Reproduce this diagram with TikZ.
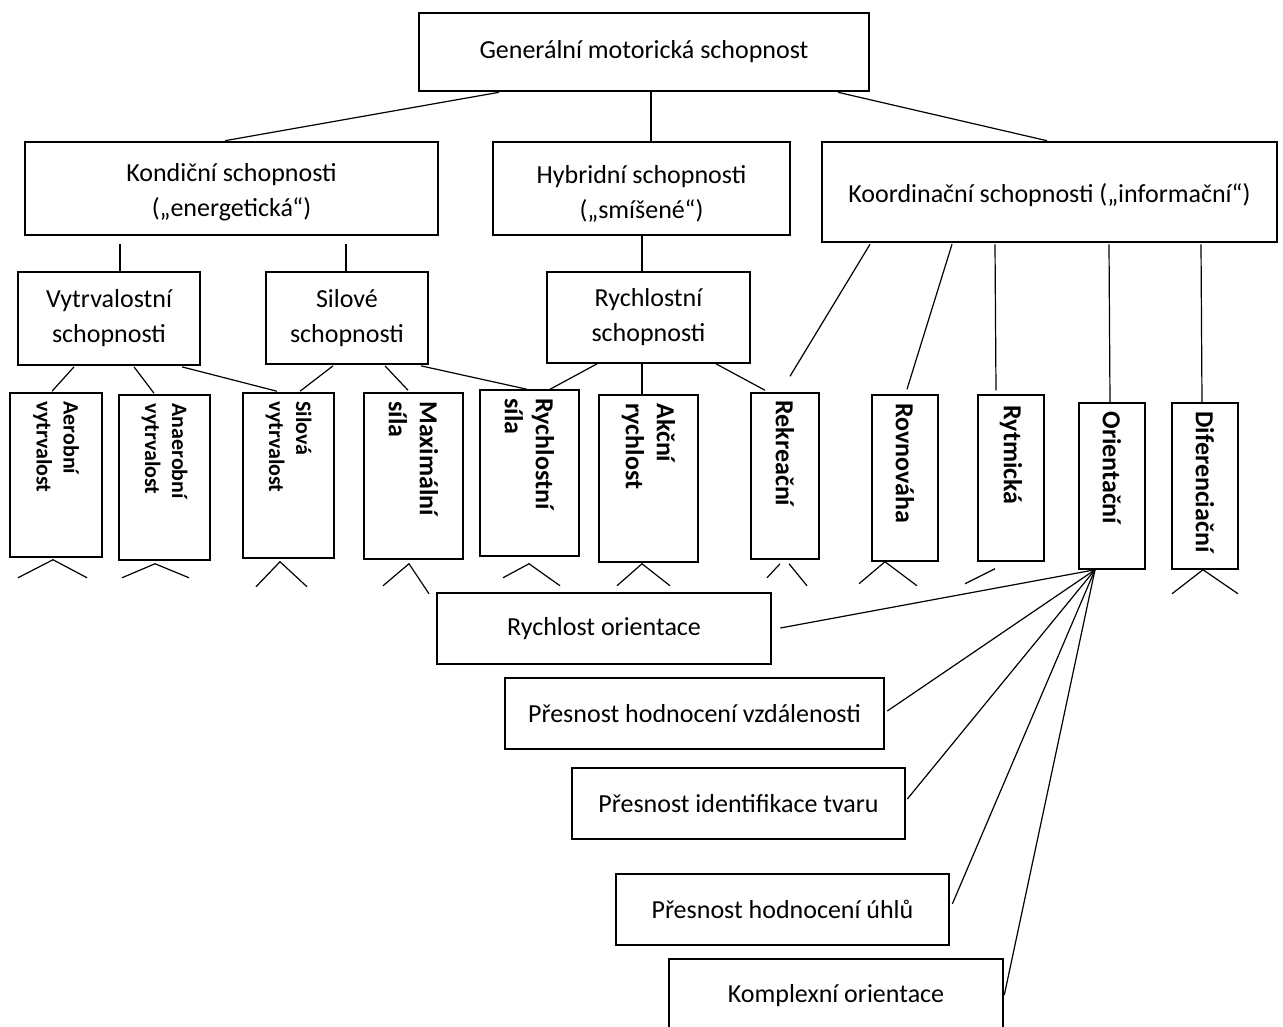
\documentclass[tikz,border=0pt]{standalone}
\usepackage{fontspec}
\setmainfont{Carlito}
\begin{document}
\begin{tikzpicture}[x=1pt,y=-1pt,
  conn/.style={line width=1.2pt, black},
  sz/.style 2 args={minimum width=#1pt, minimum height=#2pt},
  bigbox/.style={draw, line width=2.6pt, inner sep=0pt, align=center, font=\fontsize{26}{35}\selectfont},
  midbox/.style={draw, line width=1.7pt, inner sep=0pt, align=center, font=\fontsize{26}{35}\selectfont},
  txt/.style={inner sep=0pt, align=center, font=\fontsize{26}{35}\selectfont},
  vbox/.style={draw, line width=1.5pt, inner sep=0pt},
  vlab/.style={rotate=-90, anchor=west, inner sep=0pt, align=left, font=\bfseries\fontsize{26}{31}\selectfont},
  vlabs/.style={rotate=-90, anchor=west, inner sep=0pt, align=left, font=\bfseries\fontsize{22}{27}\selectfont}
]
\useasboundingbox (0,0) rectangle (1283,1026);

% level 1
\node[bigbox, sz={450}{78}] (gen) at (644,52) {Generální motorická schopnost};
% level 2
\node[bigbox, sz={413}{93}] (kon) at (231.5,188.5) {};
\node[txt] (konT) at ([yshift=-4pt]kon.center) {Kondiční schopnosti\\(„energetická“)};
\node[bigbox, sz={297}{93}] (hyb) at (641.5,188.5) {};
\node[txt] (hybT) at ([yshift=-5pt]hyb.center) {Hybridní schopnosti\\(„smíšené“)};
\node[bigbox, sz={455}{100}] (koo) at (1049.5,192) {};
\node[txt] (kooT) at ([yshift=-3pt]koo.center) {Koordinační schopnosti („informační“)};
% level 3
\node[midbox, sz={182}{93}] (vyt) at (109,318.5) {Vytrvalostní\\schopnosti};
\node[midbox, sz={162}{92}] (sil) at (347,318) {Silové\\schopnosti};
\node[midbox, sz={203}{91}] (rch) at (648.5,317.5) {Rychlostní\\schopnosti};
% level 4
\node[vbox, sz={92}{164}] (aer) at (56,475) {};
\node[vbox, sz={91}{165}] (ana) at (164.5,477.5) {};
\node[vbox, sz={91}{165}] (silv) at (288.5,475.5) {};
\node[vbox, sz={99}{166}] (max) at (413.5,476) {};
\node[vbox, sz={99}{166}] (rsi) at (529.5,473) {};
\node[vbox, sz={99}{167}] (akc) at (648.5,478.5) {};
\node[vbox, sz={68}{166}] (rek) at (785,476) {};
\node[vbox, sz={66}{166}] (rov) at (905,478) {};
\node[vbox, sz={66}{166}] (ryt) at (1011,478) {};
\node[vbox, sz={66}{166}] (ori) at (1112,486) {};
\node[vbox, sz={66}{166}] (dif) at (1205,486) {};

\node[vlabs] (aerT) at ([yshift=-9pt]aer.north) {Aerobní\\vytrvalost};
\node[vlabs] (anaT) at ([yshift=-9pt]ana.north) {Anaerobní\\vytrvalost};
\node[vlabs] (silvT) at ([yshift=-9pt]silv.north) {Silová\\vytrvalost};
\node[vlab] (maxT) at ([yshift=-9pt]max.north) {Maximální\\síla};
\node[vlab] (rsiT) at ([yshift=-9pt]rsi.north) {Rychlostní\\síla};
\node[vlab] (akcT) at ([yshift=-9pt]akc.north) {Akční\\rychlost};
\node[vlab] (rekT) at ([yshift=-8pt]rek.north) {Rekreační};
\node[vlab] (rovT) at ([yshift=-9pt]rov.north) {Rovnováha};
\node[vlab] (rytT) at ([yshift=-11pt]ryt.north) {Rytmická};
\node[vlab] (oriT) at ([yshift=-9pt]ori.north) {Orientační};
\node[vlab] (difT) at ([yshift=-9pt]dif.north) {Diferenciační};

% bottom boxes
\node[bigbox, sz={334}{71}] (ro) at (604,628.5) {Rychlost orientace};
\node[bigbox, sz={379}{71}] (phv) at (694.5,713.5) {Přesnost hodnocení vzdálenosti};
\node[bigbox, sz={333}{71}] (pit) at (738.5,803.5) {Přesnost identifikace tvaru};
\node[bigbox, sz={333}{71}] (phu) at (782.5,909.5) {Přesnost hodnocení úhlů};
\node[bigbox, sz={334}{74}] (ko) at (836,996) {Komplexní orientace};

% level 1 -> 2
\draw[conn] ([shift={(-145,0)}]gen.south) -- ([shift={(-6.5,0)}]kon.north);
\draw[conn] ([shift={(7,0)}]gen.south) -- ([shift={(9.5,0)}]hyb.north);
\draw[conn] ([shift={(194,0)}]gen.south) -- ([shift={(-2.5,0)}]koo.north);
% level 2 -> 3
\draw[conn] ([shift={(-111.5,8)}]kon.south) -- ([shift={(11,0)}]vyt.north);
\draw[conn] ([shift={(114.5,8)}]kon.south) -- ([shift={(-1,0)}]sil.north);
\draw[conn] ([shift={(0.5,0)}]hyb.south) -- ([shift={(-6.5,0)}]rch.north);
% koordinacni -> level 4
\draw[conn] ([shift={(-179.5,1)}]koo.south) -- ([shift={(5,-16)}]rek.north);
\draw[conn] ([shift={(-97.5,1)}]koo.south) -- ([shift={(2,-5)}]rov.north);
\draw[conn] ([shift={(-54.5,1)}]koo.south) -- ([shift={(-15,-4)}]ryt.north);
\draw[conn] ([shift={(59.5,1)}]koo.south) -- ([shift={(-2,0)}]ori.north);
\draw[conn] ([shift={(151.5,1)}]koo.south) -- ([shift={(-3,0)}]dif.north);
% level 3 -> 4
\draw[conn] ([shift={(-35,1)}]vyt.south) -- ([shift={(-4,-1)}]aer.north);
\draw[conn] ([shift={(25,1)}]vyt.south) -- ([shift={(-10.5,-1)}]ana.north);
\draw[conn] ([shift={(73,1)}]vyt.south) -- ([shift={(-11.5,-1)}]silv.north);
\draw[conn] ([shift={(-14,1)}]sil.south) -- ([shift={(11.5,-1)}]silv.north);
\draw[conn] ([shift={(38,1)}]sil.south) -- ([shift={(-5.5,-2)}]max.north);
\draw[conn] ([shift={(74,1)}]sil.south) -- ([shift={(-2.5,0)}]rsi.north);
\draw[conn] ([shift={(-51.5,0)}]rch.south) -- ([shift={(20.5,0)}]rsi.north);
\draw[conn] ([shift={(-6.5,0)}]rch.south) -- ([shift={(-6.5,0)}]akc.north);
\draw[conn] ([shift={(67.5,0)}]rch.south) -- ([shift={(-20,-2)}]rek.north);

% feet
\draw[conn] ([shift={(-38,20)}]aer.south) -- ([shift={(-3,2)}]aer.south) -- ([shift={(31,20)}]aer.south);
\draw[conn] ([shift={(-42.5,17)}]ana.south) -- ([shift={(-9.5,3)}]ana.south) -- ([shift={(24.5,17)}]ana.south);
\draw[conn] ([shift={(-32.5,28)}]silv.south) -- ([shift={(-8.5,3)}]silv.south) -- ([shift={(18.5,28)}]silv.south);
\draw[conn] ([shift={(-30.5,26)}]max.south) -- ([shift={(-4.5,4)}]max.south) -- ([shift={(15.5,34)}]max.south);
\draw[conn] ([shift={(-26.5,21)}]rsi.south) -- ([shift={(-0.5,7)}]rsi.south) -- ([shift={(30.5,29)}]rsi.south);
\draw[conn] ([shift={(-31.5,23)}]akc.south) -- ([shift={(-6.5,1)}]akc.south) -- ([shift={(21.5,23)}]akc.south);
\draw[conn] ([shift={(-5,4)}]rek.south) -- ([shift={(-18,18)}]rek.south);
\draw[conn] ([shift={(4,4)}]rek.south) -- ([shift={(22,26)}]rek.south);
\draw[conn] ([shift={(-46,22)}]rov.south) -- ([shift={(-20,0)}]rov.south) -- ([shift={(12,24)}]rov.south);
\draw[conn] ([shift={(-16,7)}]ryt.south) -- ([shift={(-46,22)}]ryt.south);
\draw[conn] ([shift={(-33,24)}]dif.south) -- ([shift={(-2,0)}]dif.south) -- ([shift={(33,24)}]dif.south);

% orientacni fan
\draw[conn] ([shift={(-17,0)}]ori.south) -- ([shift={(8,-0.5)}]ro.east);
\draw[conn] ([shift={(-17,0)}]ori.south) -- ([shift={(2,-2.5)}]phv.east);
\draw[conn] ([shift={(-17,0)}]ori.south) -- ([shift={(1,-4.5)}]pit.east);
\draw[conn] ([shift={(-17,0)}]ori.south) -- ([shift={(2,-5.5)}]phu.east);
\draw[conn] ([shift={(-17,0)}]ori.south) -- ([shift={(0,-1)}]ko.east);
\end{tikzpicture}
\end{document}
